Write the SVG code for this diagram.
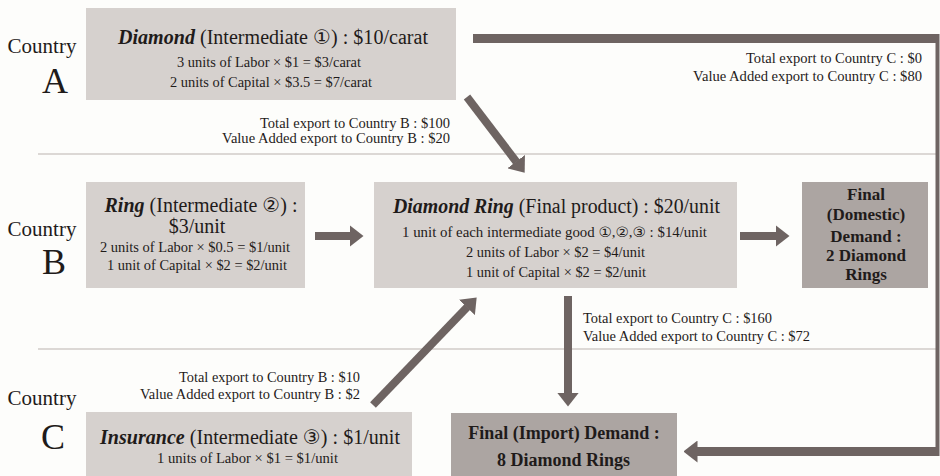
<svg xmlns="http://www.w3.org/2000/svg" width="940" height="476" viewBox="0 0 940 476">
<defs>
<style>
text{font-family:'Liberation Serif','Times New Roman',serif;fill:#1f1b1a}
.cd{font-family:'DejaVu Sans','Noto Sans CJK JP',sans-serif;font-size:1em}
.ctry{font-size:21px;text-anchor:middle}
.big{font-size:36px;text-anchor:middle}
.ttl{font-size:20px;text-anchor:middle}
.sm{font-size:14px;text-anchor:middle}
.lbl{font-size:14px}
.r{text-anchor:end}
.bi{font-weight:bold;font-style:italic}
.dem{font-weight:bold;text-anchor:middle}
.box{fill:#d6d1ce}
.dbox{fill:#aca5a2}
.sep{stroke:#dcd8d5;stroke-width:2}
.arr{stroke:#6e6462;stroke-width:8;fill:none}
</style>
<marker id="ah" markerUnits="userSpaceOnUse" viewBox="0 0 14 22" markerWidth="14" markerHeight="22" refX="0.5" refY="11" orient="auto">
<path d="M0,0 L14,11 L0,22 z" fill="#6e6462"/>
</marker>
</defs>
<rect width="940" height="476" fill="#fdfdfb"/>
<line class="sep" x1="38" y1="154" x2="938" y2="154"/>
<line class="sep" x1="38" y1="349" x2="938" y2="349"/>

<g id="countries">
<text class="ctry" x="42" y="53">Country</text>
<text class="big" x="55" y="93">A</text>
<text class="ctry" x="42" y="236">Country</text>
<text class="big" x="54" y="274">B</text>
<text class="ctry" x="42" y="405">Country</text>
<text class="big" x="53" y="449">C</text>
</g>

<g id="connectors">
<line x1="473" y1="38.5" x2="938" y2="38.5" stroke="#6e6462" stroke-width="9"/>
<line x1="937.5" y1="34" x2="937.5" y2="456" stroke="#6e6462" stroke-width="4"/>
<line x1="939" y1="451.5" x2="697" y2="451.5" stroke="#6e6462" stroke-width="9" marker-end="url(#ah)"/>
<line class="arr" x1="467" y1="97" x2="516.5" y2="162" marker-end="url(#ah)"/>
<line class="arr" x1="373" y1="405" x2="467.3" y2="307.1" marker-end="url(#ah)"/>
<line class="arr" x1="568" y1="296" x2="568" y2="393" marker-end="url(#ah)"/>
<line class="arr" x1="315" y1="236" x2="350" y2="236" marker-end="url(#ah)"/>
<line class="arr" x1="740" y1="236" x2="776" y2="236" marker-end="url(#ah)"/>
</g>

<g id="labels">
<text class="lbl r" x="450" y="128" textLength="190" lengthAdjust="spacingAndGlyphs">Total export to Country B : $100</text>
<text class="lbl r" x="450" y="143" textLength="228" lengthAdjust="spacingAndGlyphs">Value Added export to Country B : $20</text>
<text class="lbl r" x="922" y="63" textLength="176" lengthAdjust="spacingAndGlyphs">Total export to Country C : $0</text>
<text class="lbl r" x="922" y="81" textLength="229" lengthAdjust="spacingAndGlyphs">Value Added export to Country C : $80</text>
<text class="lbl" x="583" y="323" textLength="189" lengthAdjust="spacingAndGlyphs">Total export to Country C : $160</text>
<text class="lbl" x="583" y="341" textLength="227" lengthAdjust="spacingAndGlyphs">Value Added export to Country C : $72</text>
<text class="lbl r" x="360" y="382" textLength="181" lengthAdjust="spacingAndGlyphs">Total export to Country B : $10</text>
<text class="lbl r" x="360" y="399" textLength="220" lengthAdjust="spacingAndGlyphs">Value Added export to Country B : $2</text>
</g>

<g id="diamond">
<rect class="box" x="86" y="8" width="370" height="92"/>
<text class="ttl" x="273" y="44" textLength="310" lengthAdjust="spacingAndGlyphs"><tspan class="bi">Diamond</tspan> (Intermediate <tspan class="cd">①</tspan>) : $10/carat</text>
<text class="sm" x="269" y="67" textLength="184" lengthAdjust="spacingAndGlyphs">3 units of Labor × $1 = $3/carat</text>
<text class="sm" x="271" y="87" textLength="202" lengthAdjust="spacingAndGlyphs">2 units of Capital × $3.5 = $7/carat</text>
</g>

<g id="ring">
<rect class="box" x="86" y="182" width="219" height="106"/>
<text class="ttl" x="201" y="212" textLength="193" lengthAdjust="spacingAndGlyphs"><tspan class="bi">Ring</tspan> (Intermediate <tspan class="cd">②</tspan>) :</text>
<text class="ttl" x="197" y="233">$3/unit</text>
<text class="sm" x="195" y="252" textLength="190" lengthAdjust="spacingAndGlyphs">2 units of Labor × $0.5 = $1/unit</text>
<text class="sm" x="197" y="270" textLength="180" lengthAdjust="spacingAndGlyphs">1 unit of Capital × $2 = $2/unit</text>
</g>

<g id="diamond-ring">
<rect class="box" x="374" y="182" width="363" height="106"/>
<text class="ttl" x="556.5" y="213" textLength="327" lengthAdjust="spacingAndGlyphs"><tspan class="bi">Diamond Ring</tspan> (Final product) : $20/unit</text>
<text class="sm" x="554.5" y="237" textLength="305" lengthAdjust="spacingAndGlyphs">1 unit of each intermediate good <tspan class="cd">①</tspan>,<tspan class="cd">②</tspan>,<tspan class="cd">③</tspan> : $14/unit</text>
<text class="sm" x="555.5" y="257" textLength="179" lengthAdjust="spacingAndGlyphs">2 units of Labor × $2 = $4/unit</text>
<text class="sm" x="556" y="277" textLength="180" lengthAdjust="spacingAndGlyphs">1 unit of Capital × $2 = $2/unit</text>
</g>

<g id="domestic-demand">
<rect class="dbox" x="802" y="182" width="126" height="106"/>
<text class="dem" x="866" y="200" font-size="17">Final</text>
<text class="dem" x="866" y="220" font-size="17">(Domestic)</text>
<text class="dem" x="866" y="242" font-size="17">Demand :</text>
<text class="dem" x="866" y="261" font-size="17">2 Diamond</text>
<text class="dem" x="866" y="280" font-size="17">Rings</text>
</g>

<g id="insurance">
<rect class="box" x="86" y="412" width="326" height="70"/>
<text class="ttl" x="250" y="444" textLength="300" lengthAdjust="spacingAndGlyphs"><tspan class="bi">Insurance</tspan> (Intermediate <tspan class="cd">③</tspan>) : $1/unit</text>
<text class="sm" x="247.5" y="463" textLength="181" lengthAdjust="spacingAndGlyphs">1 units of Labor × $1 = $1/unit</text>
</g>

<g id="import-demand">
<rect class="dbox" x="451" y="413" width="226" height="70"/>
<text class="dem" x="564" y="439" font-size="18">Final (Import) Demand :</text>
<text class="dem" x="563.5" y="466" font-size="18">8 Diamond Rings</text>
</g>
</svg>
